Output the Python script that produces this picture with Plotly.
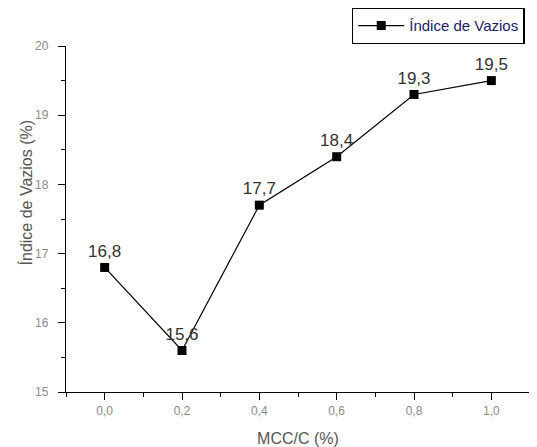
import plotly.graph_objects as go

mcc = [0.0, 0.2, 0.4, 0.6, 0.8, 1.0]
vazios = [16.8, 15.6, 17.7, 18.4, 19.3, 19.5]
series_name = "Índice de Vazios"
x_ticks = [0.0, 0.2, 0.4, 0.6, 0.8, 1.0]
x_title = "MCC/C (%)"
y_title = "Índice de Vazios (%)"

FONT = "Liberation Sans, Arial, sans-serif"

fig = go.Figure()
fig.add_trace(go.Scatter(
    x=mcc, y=vazios, name=series_name,
    mode="lines+markers+text",
    line=dict(color="black", width=1.2),
    marker=dict(symbol="square", size=9, color="black"),
    texttemplate="%{y:.1f}", textposition="top center",
    textfont=dict(family=FONT, size=17, color="#333"),
    cliponaxis=False,
))

axis_common = dict(
    showline=True, linecolor="black", linewidth=1.4,
    ticks="outside", ticklen=7, tickwidth=1.4, tickcolor="black",
    showgrid=False, zeroline=False, mirror=False, automargin=False,
    tickfont=dict(family=FONT, size=12, color="#8a8a8a"),
    title_font=dict(family=FONT, size=16, color="#555"),
)

fig.update_xaxes(
    range=[-0.1, 1.1], tickvals=x_ticks, tickformat=".1f",
    minor=dict(ticks="outside", ticklen=4, tickwidth=1.4, tickcolor="black", dtick=0.1, tick0=0),
    title_text=x_title, title_standoff=16, **axis_common)
fig.update_yaxes(
    range=[15, 20], dtick=1, tickformat="d",
    minor=dict(ticks="outside", ticklen=4, tickwidth=1.4, tickcolor="black", dtick=0.5),
    ticklabelstandoff=7, **axis_common)

fig.add_annotation(
    text=y_title, xref="paper", yref="paper", x=-0.086, y=0.577,
    xanchor="center", yanchor="middle", textangle=-90, showarrow=False,
    font=dict(family=FONT, size=16, color="#555"))

# page body has an 8px margin, so the figure is 8px smaller and margins shifted
fig.update_layout(
    width=529, height=439,
    margin=dict(l=58, r=7, t=38, b=55, autoexpand=False),
    plot_bgcolor="white", paper_bgcolor="white",
    separators=",.",
    showlegend=True,
    legend=dict(x=0.616, y=1.11, xanchor="left", yanchor="top",
                bordercolor="black", borderwidth=1.4, bgcolor="white",
                font=dict(family=FONT, size=15, color="#1c1c6a"),
                itemwidth=46, tracegroupgap=0),
)

fig.write_html("out.html")
